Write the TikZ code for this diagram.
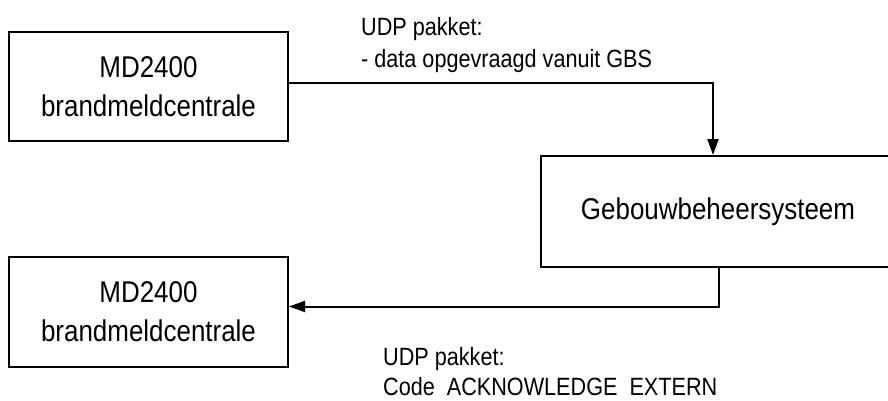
\documentclass[tikz,border=0pt]{standalone}
\usepackage{fontspec}
\setmainfont[FakeStretch=0.865]{Liberation Sans}
\usetikzlibrary{arrows.meta}

\tikzset{
  unit/.style={
    draw,
    line width=2pt,
    align=center,
    inner sep=0pt,
    font=\fontsize{30}{39}\selectfont,
  },
  note/.style={
    align=left,
    inner sep=0pt,
    anchor=north west,
  },
  flow/.style={
    line width=2pt,
    -{Triangle[length=16pt, width=11pt]},
  },
}

\begin{document}
\begin{tikzpicture}[x=1pt, y=-1pt]

      \useasboundingbox (0,0) rectangle (888,400);

      \node[unit, minimum width=279pt, minimum height=109pt](md1) at (148.5,86.5)
        {MD2400\\brandmeldcentrale};
      \node[unit, minimum width=279pt, minimum height=110pt](md2) at (148.5,312)
        {MD2400\\brandmeldcentrale};
      \node[unit, minimum width=354pt, minimum height=111pt](gbs) at (718,211.5)
        {Gebouwbeheersysteem};

      \node[note, font=\fontsize{25}{32}\selectfont](req) at (361,17)
        {UDP pakket:\\- data opgevraagd vanuit GBS};
      \node[note, font=\fontsize{25}{30}\selectfont](ack) at (383,347)
        {UDP pakket:\\Code\ \ ACKNOWLEDGE\ \ EXTERN};

      \draw[flow] ([yshift=3.5pt]md1.east) -| ([xshift=-5pt]gbs.north);
      \draw[flow] ([xshift=1pt]gbs.south) |- ([yshift=5.5pt]md2.east);

    \end{tikzpicture}
\end{document}
